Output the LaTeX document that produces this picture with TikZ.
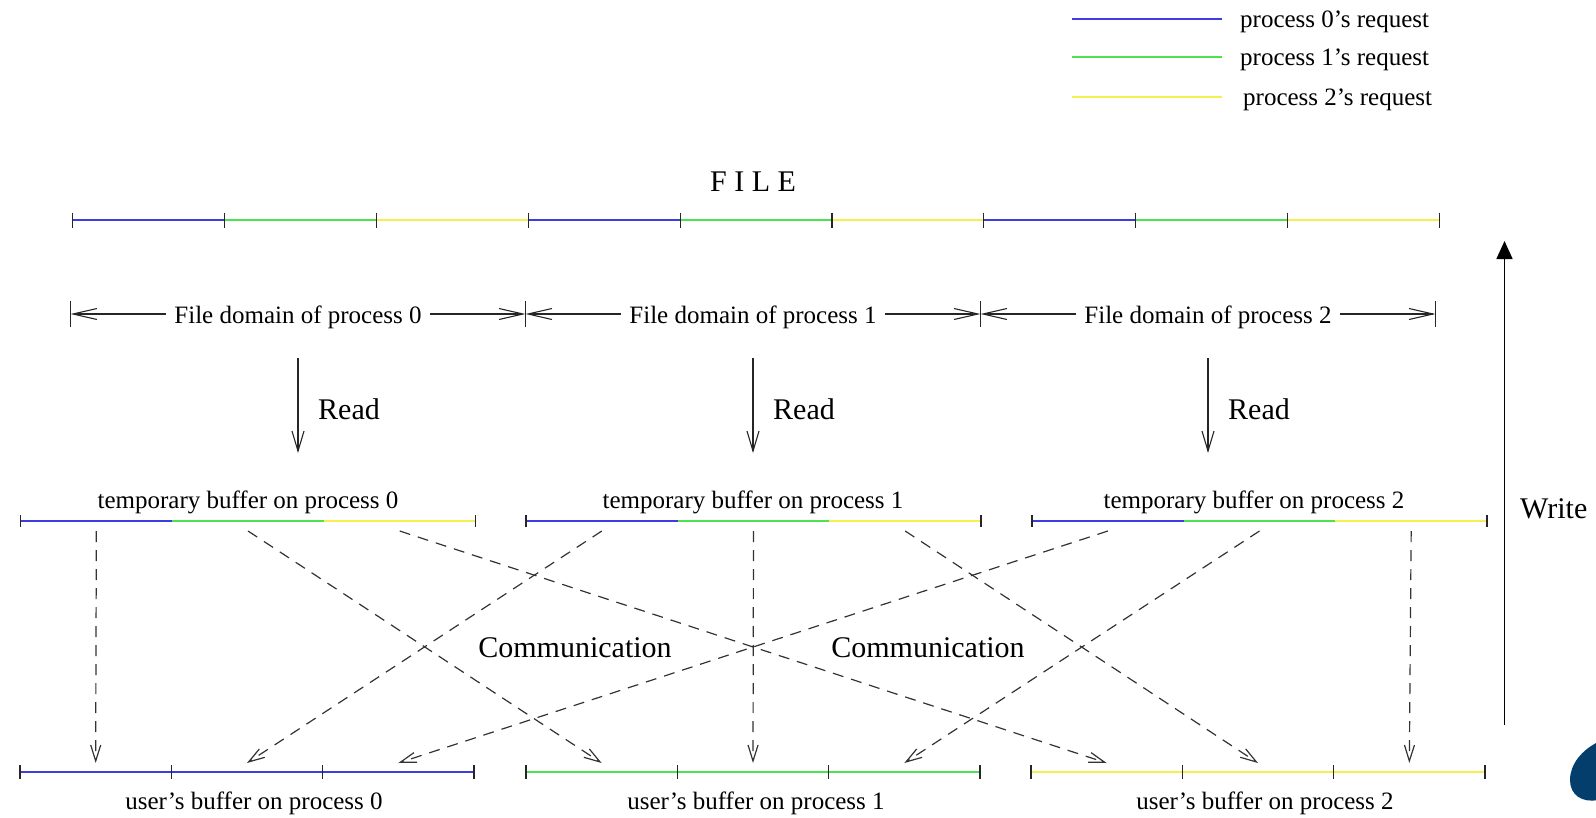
\documentclass[tikz,border=0pt]{standalone}
\usepackage{fontspec}
\setmainfont{Liberation Serif}
\usetikzlibrary{arrows.meta}
\definecolor{reqblue}{RGB}{60,60,225}
\definecolor{reqgreen}{RGB}{80,225,80}
\definecolor{reqyellow}{RGB}{245,240,80}
\definecolor{blobblue}{RGB}{3,62,108}

\begin{document}
\begin{tikzpicture}[x=1pt,y=-1pt,
  seg/.style={line width=1.8pt},
  tick/.style={line width=1.1pt, black!85},
  lbl/.style={font=\fontsize{25}{30}\selectfont, inner sep=0pt},
  biglbl/.style={font=\fontsize{30}{36}\selectfont, inner sep=0pt},
  domarrow/.style={line width=1.1pt, black!85, -{Straight Barb[length=24pt,width=11pt]}},
  readarrow/.style={line width=1.1pt, black!85, -{Straight Barb[length=20pt,width=12pt]}},
  comm/.style={line width=1.2pt, black!80, dash pattern=on 11pt off 8pt, -{Straight Barb[length=16pt,width=10pt]}},
  writearrow/.style={line width=1.6pt, -{Triangle[length=18pt,width=16pt]}},
]
\useasboundingbox (0,0) rectangle (1596,817);

% legend
\foreach \c/\y/\n/\dx in {reqblue/19/0/0, reqgreen/57/1/0, reqyellow/97/2/3} {
  \draw[seg,\c] (1072,\y) -- (1222,\y);
  \node[lbl,anchor=base west] (leg\n) at (1240+\dx,\y+8) {process \n’s request};
}

% the file, striped by request
\node[biglbl,anchor=base] (file) at (753,191) {F I L E};
\foreach \d in {0,1,2} {
  \foreach \s/\c in {0/reqblue,1/reqgreen,2/reqyellow} {
    \draw[seg,\c] ({72.5+151.9*(3*\d+\s)},220) -- ++(151.9,0);
  }
}
\foreach \k in {0,...,9} \draw[tick] ({72.5+151.9*\k},212.5) -- ++(0,15);

% file domains
\foreach \k in {0,...,3} \draw[tick] ({70.5+455*\k},301) -- ++(0,26);
\foreach \d in {0,1,2} {
  \coordinate (dl\d) at ({70.5+455*\d},314);
  \coordinate (dr\d) at ({525.5+455*\d},314);
  \node[lbl, anchor=base, inner xsep=8pt] (dom\d) at ({298+455*\d},323) {File domain of process \d};
  \draw[domarrow] (dom\d.west |- dl\d) -- (dl\d);
  \draw[domarrow] (dom\d.east |- dr\d) -- (dr\d);
}

% read step
\foreach \d in {0,1,2} {
  \coordinate (rt\d) at ({298+455*\d},358);
  \coordinate (rb\d) at ({298+455*\d},453);
  \draw[readarrow] (rt\d) -- (rb\d);
  \node[biglbl, anchor=west] (read\d) at ({318+455*\d},409) {Read};
}

% temporary buffers
\foreach \b/\xb/\lx in {0/20.5/248,1/526/753,2/1032/1254} {
  \foreach \s/\c in {0/reqblue,1/reqgreen,2/reqyellow}
    \draw[seg,\c] ({\xb+151.67*\s},521) -- ++(151.67,0);
  \draw[tick] (\xb,515) -- ++(0,12);
  \draw[tick] ({\xb+455},515) -- ++(0,12);
  \node[lbl,anchor=base] (tmp\b) at (\lx,508) {temporary buffer on process \b};
  \foreach \s in {0,1,2} \coordinate (ts\b\s) at ({\xb+151.67*(\s+0.5)},531);
}

% user buffers
\foreach \b/\xb/\c/\lx in {0/20/reqblue/254,1/526/reqgreen/756,2/1031/reqyellow/1265} {
  \draw[seg,\c] (\xb,772) -- ++(454,0);
  \foreach \s in {0,...,3} \draw[tick] ({\xb+151.33*\s},765) -- ++(0,14);
  \node[lbl,anchor=base] (usr\b) at (\lx,809) {user’s buffer on process \b};
  \foreach \s in {0,1,2} \coordinate (us\b\s) at ({\xb+151.33*(\s+0.5)},763);
}

% communication: piece j of temporary buffer i goes to piece i of user buffer j
\foreach \i in {0,1,2} {
  \foreach \j in {0,1,2} {
    \draw[comm] (ts\i\j) -- (us\j\i);
  }
}
\node[biglbl] (comm0) at (575,648) {Communication};
\node[biglbl] (comm1) at (928,648) {Communication};

% write step
\coordinate (wb) at (1504.5,725);
\coordinate (wt) at (1504.5,241);
\draw[writearrow] (wb) -- (wt);
\node[biglbl,anchor=west] (write) at (1520,509) {Write};

% corner mark
\begin{scope}
  \clip (0,0) rectangle (1596,817);
  \fill[blobblue] (1598,742) .. controls (1582,750) and (1570,764) .. (1570,780)
    .. controls (1570,795) and (1582,803) .. (1598,800) -- cycle;
\end{scope}
\end{tikzpicture}
\end{document}
